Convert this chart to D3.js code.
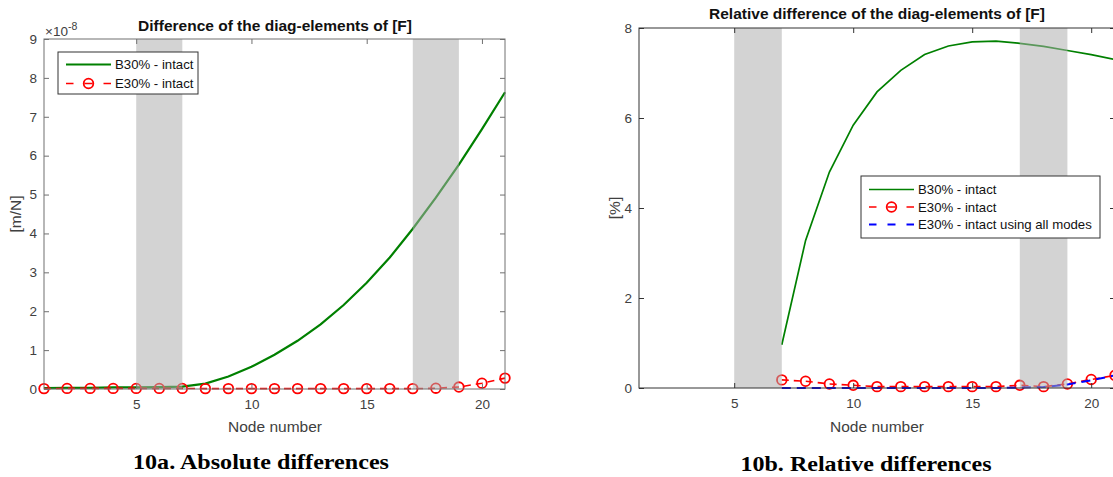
<!DOCTYPE html>
<html>
<head>
<meta charset="utf-8">
<script src="https://cdn.jsdelivr.net/npm/d3@7"></script>
<style>
  body { margin: 0; background: #fff; }
  svg { display: block; }
  .tick text { font-family: "Liberation Sans", Arial, sans-serif; font-size: 13.5px; fill: #404040; }
</style>
</head>
<body>
<svg id="chart" width="1113" height="477"></svg>
<script>
// node numbers
const nodes = d3.range(1, 22);
const nodesRel = d3.range(7, 22);

// 10a: absolute differences (x 1e-8 m/N)
const absB30 = [0.02, 0.03, 0.03, 0.04, 0.04, 0.05, 0.06, 0.14, 0.32, 0.57, 0.88, 1.24, 1.66, 2.16, 2.73, 3.38, 4.12, 4.92, 5.77, 6.68, 7.63];
const absE30 = [0.01, 0.015, 0.015, 0.015, 0.015, 0.015, 0.015, 0.01, 0.01, 0.01, 0.01, 0.01, 0.01, 0.01, 0.01, 0.01, 0.01, 0.02, 0.05, 0.15, 0.28];

// 10b: relative differences (%), nodes 7..21
const relB30 = [0.96, 3.28, 4.8, 5.84, 6.58, 7.06, 7.41, 7.6, 7.69, 7.71, 7.66, 7.59, 7.5, 7.41, 7.3];
const relE30 = [0.18, 0.15, 0.09, 0.06, 0.03, 0.03, 0.03, 0.03, 0.03, 0.03, 0.06, 0.03, 0.09, 0.19, 0.28];
const relE30all = [0.0, 0.0, 0.0, 0.0, 0.0, 0.0, 0.0, 0.0, 0.0, 0.0, 0.01, 0.02, 0.08, 0.17, 0.28];

// shaded node ranges
const bands = [[5, 7], [17, 19]];

const absTicksY = d3.range(0, 10);
const relTicksY = [0, 2, 4, 6, 8];
const ticksX = [5, 10, 15, 20];

const svg = d3.select("#chart");
const sans = "'Liberation Sans', Arial, sans-serif";

function drawPanel(opt) {
  const g = svg.append("g");
  const x = d3.scaleLinear().domain([1, 21]).range([opt.left, opt.right]);
  const y = d3.scaleLinear().domain([0, opt.ymax]).range([opt.bottom, opt.top]);

  // series
  opt.series.forEach(s => {
    const pts = s.xs.map((n, i) => [n, s.ys[i]]);
    const line = d3.line().x(d => x(d[0])).y(d => y(d[1]));
    g.append("path").datum(pts).attr("d", line)
      .attr("fill", "none").attr("stroke", s.color).attr("stroke-width", s.width)
      .attr("stroke-dasharray", s.dash || null);
    if (s.marker) {
      g.selectAll(null).data(pts).join("circle")
        .attr("cx", d => x(d[0])).attr("cy", d => y(d[1])).attr("r", 4.8)
        .attr("fill", "none").attr("stroke", s.color).attr("stroke-width", 1.8);
    }
  });

  // shaded bands, on top with transparency
  g.selectAll(null).data(bands).join("rect")
    .attr("x", d => x(d[0])).attr("width", d => x(d[1]) - x(d[0]))
    .attr("y", opt.top).attr("height", opt.bottom - opt.top)
    .attr("fill", "rgb(171,171,171)").attr("fill-opacity", 0.53);

  // axes
  const ax = opt.axisColor;
  const bottom = g.append("g").attr("transform", `translate(0,${opt.bottom})`)
    .call(d3.axisBottom(x).tickValues(ticksX).tickSizeInner(-5).tickSizeOuter(0).tickPadding(10));
  const top = g.append("g").attr("transform", `translate(0,${opt.top})`)
    .call(d3.axisTop(x).tickValues(ticksX).tickSizeInner(-5).tickSizeOuter(0).tickFormat(""));
  const left = g.append("g").attr("transform", `translate(${opt.left},0)`)
    .call(d3.axisLeft(y).tickValues(opt.ticksY).tickSizeInner(-5).tickSizeOuter(0).tickPadding(7));
  const right = g.append("g").attr("transform", `translate(${opt.right},0)`)
    .call(d3.axisRight(y).tickValues(opt.ticksY).tickSizeInner(-5).tickSizeOuter(0).tickFormat(""));
  [bottom, top, left, right].forEach(a => {
    a.select(".domain").remove();
    a.selectAll("line").attr("stroke", ax);
  });
  g.append("rect").attr("x", opt.left).attr("y", opt.top)
    .attr("width", opt.right - opt.left).attr("height", opt.bottom - opt.top)
    .attr("fill", "none").attr("stroke", ax).attr("stroke-width", 1);

  // title, labels
  g.append("text").attr("x", opt.titleX).attr("y", opt.titleY).attr("text-anchor", "middle")
    .attr("font-family", sans).attr("font-size", 15.5).attr("font-weight", "bold").attr("fill", "#111")
    .text(opt.title);
  g.append("text").attr("x", opt.titleX).attr("y", 432).attr("text-anchor", "middle")
    .attr("font-family", sans).attr("font-size", 15.5).attr("fill", "#404040").text("Node number");
  g.append("text").attr("transform", `translate(${opt.ylabX},${opt.ylabY}) rotate(-90)`)
    .attr("text-anchor", "middle").attr("font-family", sans).attr("font-size", 15.5).attr("fill", "#404040")
    .text(opt.ylabel);
  g.append("text").attr("x", opt.capX).attr("y", opt.capY).attr("text-anchor", "middle")
    .attr("font-family", "'Liberation Serif', 'Times New Roman', serif").attr("font-size", 21)
    .attr("textLength", opt.capW).attr("lengthAdjust", "spacingAndGlyphs")
    .attr("font-weight", "bold").attr("fill", "#000").text(opt.caption);

  // legend
  const L = opt.legend;
  g.append("rect").attr("x", L.x).attr("y", L.y).attr("width", L.w).attr("height", L.h)
    .attr("fill", "#fff").attr("stroke", "#333").attr("stroke-width", 1);
  opt.series.forEach((s, i) => {
    const ly = L.y + L.first + i * L.step;
    g.append("line").attr("x1", L.x + 8).attr("x2", L.x + 53).attr("y1", ly).attr("y2", ly)
      .attr("stroke", s.color).attr("stroke-width", s.width)
      .attr("stroke-dasharray", s.dash ? "7.5,11,8,11,8" : null);
    if (s.marker) {
      g.append("circle").attr("cx", L.x + 30.5).attr("cy", ly).attr("r", 4.8)
        .attr("fill", "none").attr("stroke", s.color).attr("stroke-width", 1.8);
    }
    g.append("text").attr("x", L.x + 57).attr("y", ly + 4.8)
      .attr("font-family", sans).attr("font-size", 13.2).attr("fill", "#111").text(s.label);
  });
  return g;
}

const gA = drawPanel({
  left: 44, right: 505, top: 39, bottom: 389, ymax: 9, ticksY: absTicksY, axisColor: "#707070",
  title: "Difference of the diag-elements of [F]", titleX: 275, titleY: 31,
  ylabel: "[m/N]", ylabX: 21, ylabY: 214,
  caption: "10a. Absolute differences", capX: 261, capY: 469, capW: 256,
  legend: { x: 58, y: 52, w: 140, h: 42, first: 12.5, step: 19 },
  series: [
    { xs: nodes, ys: absB30, color: "rgb(0,128,0)", width: 2.2, label: "B30% - intact" },
    { xs: nodes, ys: absE30, color: "#ff0000", width: 1.6, dash: "7,5", marker: true, label: "E30% - intact" }
  ]
});
// exponent label
const expo = gA.append("text").attr("x", 45).attr("y", 36).attr("font-family", sans).attr("font-size", 13.5).attr("fill", "#404040");
expo.append("tspan").text("\u00d710");
expo.append("tspan").attr("dy", -6).attr("font-size", 10.5).text("-8");

drawPanel({
  left: 639, right: 1115, top: 28, bottom: 388, ymax: 8, ticksY: relTicksY, axisColor: "#333",
  title: "Relative difference of the diag-elements of [F]", titleX: 877, titleY: 19,
  ylabel: "[%]", ylabX: 620, ylabY: 208,
  caption: "10b. Relative differences", capX: 866, capY: 471, capW: 251,
  legend: { x: 861, y: 176, w: 239, h: 62, first: 13.5, step: 17.5 },
  series: [
    { xs: nodesRel, ys: relB30, color: "rgb(0,128,0)", width: 1.7, label: "B30% - intact" },
    { xs: nodesRel, ys: relE30, color: "#ff0000", width: 1.6, dash: "7,5", marker: true, label: "E30% - intact" },
    { xs: nodesRel, ys: relE30all, color: "#0000ff", width: 2, dash: "9,6", label: "E30% - intact using all modes" }
  ]
});
</script>
</body>
</html>
